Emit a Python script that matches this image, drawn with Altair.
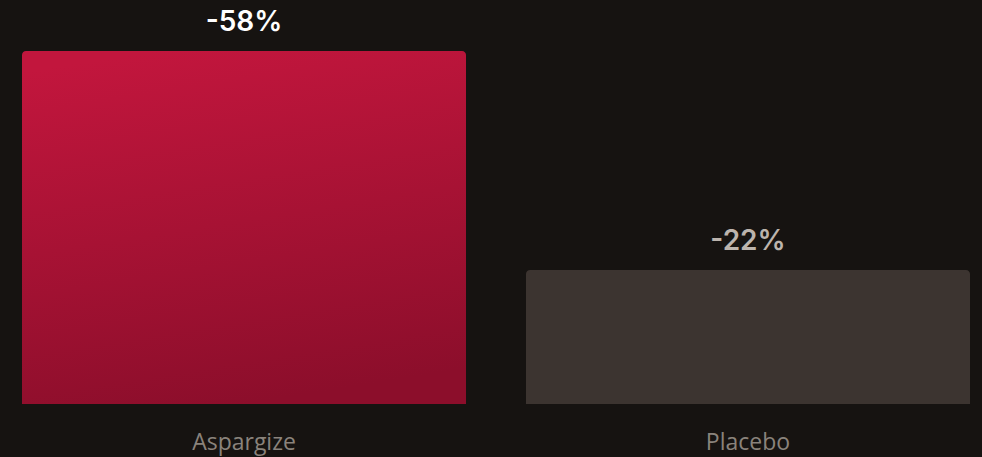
import altair as alt
import pandas as pd

categories = ["Aspargize", "Placebo"]
values = [58, 22]
labels = ["-58%", "-22%"]
label_colors = ["#ffffff", "#bcb4ad"]

df = pd.DataFrame({"cat": categories, "val": values, "label": labels})

x = alt.X("cat:N", sort=categories, title=None,
          scale=alt.Scale(paddingInner=0.119, paddingOuter=0.0238),
          axis=alt.Axis(labelAngle=0, labelFontSize=23, labelColor="#8a837c",
                        labelFont="Open Sans", labelFontWeight=400,
                        labelPadding=27, ticks=False, domain=False, grid=False))
y = alt.Y("val:Q", scale=alt.Scale(domain=[0, 58], nice=False, zero=True),
          axis=None)

base = alt.Chart(df)

red = base.transform_filter(alt.datum.cat == "Aspargize").mark_bar(
    cornerRadiusTopLeft=4, cornerRadiusTopRight=4,
    color={"gradient": "linear", "x1": 0.3, "y1": 0, "x2": 0.5, "y2": 1,
           "stops": [{"offset": 0, "color": "#c2163d"},
                     {"offset": 1, "color": "#8c0e2b"}]}
).encode(x=x, y=y)

grey = base.transform_filter(alt.datum.cat == "Placebo").mark_bar(
    cornerRadiusTopLeft=4, cornerRadiusTopRight=4, color="#3c3430"
).encode(x=x, y=y)

text = base.mark_text(baseline="alphabetic", dy=-20, fontSize=28,
                      font="Inter", fontWeight=600).encode(
    x=x, y=y, text="label:N",
    color=alt.Color("cat:N", scale=alt.Scale(domain=categories, range=label_colors),
                    legend=None))

chart = alt.layer(red, grey, text).properties(
    width=972, height=353,
    background="#161311",
    autosize=alt.AutoSizeParams(type="none"),
    padding={"left": 10, "top": 51, "right": 0, "bottom": 53},
).configure_view(stroke=None)

chart.save("out.html", embed_options={"renderer": "svg", "actions": False})
